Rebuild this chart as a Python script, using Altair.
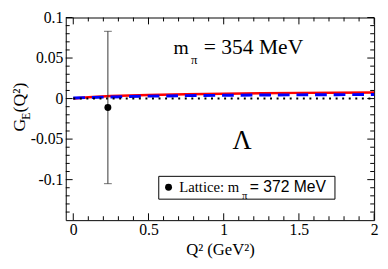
import altair as alt
import pandas as pd
import numpy as np

# ---- data ----
q2 = [0.0, 0.1, 0.25, 0.5, 0.75, 1.0, 1.25, 1.5, 1.75, 2.0]
ge_red = [0.0, 0.0016, 0.0031, 0.0045, 0.0053, 0.0060, 0.0066, 0.0070, 0.0073, 0.0076]
ge_blue = [0.0008, 0.0013, 0.0020, 0.0030, 0.0036, 0.0040, 0.0044, 0.0046, 0.0048, 0.0050]
ge_dot = [0.0, 0.0, 0.0, 0.0, 0.0, 0.0, 0.0, 0.0, 0.0, 0.0]

lat_q2 = [0.23]
lat_ge = [-0.011]
lat_err = [0.094]

x_labels = [0, 0.5, 1, 1.5, 2]
y_labels = [-0.1, -0.05, 0, 0.05, 0.1]
x_minor = [round(v, 2) for v in np.arange(0.1, 2.0, 0.1)]
y_minor = [round(v, 2) for v in np.arange(-0.14, 0.1, 0.01)]

PT = 15          # plot top on the page
PB = 222         # plot bottom on the page
W, H = 315, PB - PT
SERIF = "Liberation Serif"
SANS = "Liberation Sans"

def px(page_x):
    return page_x - 67

def py(ref_page_y):
    # position inside the plot, scaled from the reference's plot (6..228)
    return (ref_page_y - 6) * H / 222

xs = alt.Scale(domain=[-0.05, 2.0], nice=False, zero=False)
ys = alt.Scale(domain=[-0.15, 0.1], nice=False, zero=False)

curves = pd.DataFrame({"q2": q2, "red": ge_red, "blue": ge_blue, "dot": ge_dot})

xenc = alt.X("q2:Q", scale=xs,
             axis=alt.Axis(values=x_labels, title=None, labelFlush=False, labelPadding=2,
                           labelExpr="'' + datum.value"))

base = alt.Chart(curves)
red = base.mark_line(color="#ff0000", strokeWidth=2.5).encode(
    x=xenc,
    y=alt.Y("red:Q", scale=ys,
            axis=alt.Axis(values=y_labels, title=None, labelExpr="'' + datum.value",
                          labelPadding=3, labelFlush=False)))
blue = base.mark_line(color="#0000ff", strokeWidth=3, strokeDash=[12, 7]).encode(
    x=alt.X("q2:Q", scale=xs), y=alt.Y("blue:Q", scale=ys))
dot = base.mark_line(color="black", strokeWidth=2, strokeDash=[2, 4.7]).encode(
    x=alt.X("q2:Q", scale=xs), y=alt.Y("dot:Q", scale=ys))

lat = pd.DataFrame({"q2": lat_q2, "ge": lat_ge, "err": lat_err})
lat["lo"] = lat["ge"] - lat["err"]
lat["hi"] = lat["ge"] + lat["err"]
lb = alt.Chart(lat)
err = lb.mark_rule(color="#333333", strokeWidth=1).encode(
    x=alt.X("q2:Q", scale=xs), y=alt.Y("lo:Q", scale=ys), y2="hi:Q")
cap_lo = lb.mark_tick(color="#333333", orient="horizontal", size=8, thickness=1).encode(
    x=alt.X("q2:Q", scale=xs), y=alt.Y("lo:Q", scale=ys))
cap_hi = lb.mark_tick(color="#333333", orient="horizontal", size=8, thickness=1).encode(
    x=alt.X("q2:Q", scale=xs), y=alt.Y("hi:Q", scale=ys))
pt = lb.mark_circle(color="black", size=50, opacity=1).encode(
    x=alt.X("q2:Q", scale=xs), y=alt.Y("ge:Q", scale=ys))

# ---- inward ticks on all four sides ----
ymaj = pd.DataFrame({"v": y_labels})
ymin = pd.DataFrame({"v": [v for v in y_minor if abs(round(v / 0.05) * 0.05 - v) > 1e-9]})
xmaj = pd.DataFrame({"v": x_labels})
xmin = pd.DataFrame({"v": [v for v in x_minor if abs(round(v / 0.5) * 0.5 - v) > 1e-9]})

def yticks(df, L):
    c = alt.Chart(df)
    left = c.mark_rule(color="black", strokeWidth=1).encode(
        y=alt.Y("v:Q", scale=ys), x=alt.value(0), x2=alt.value(L))
    right = c.mark_rule(color="black", strokeWidth=1).encode(
        y=alt.Y("v:Q", scale=ys), x=alt.value(W), x2=alt.value(W - L))
    return [left, right]

def xticks(df, L):
    c = alt.Chart(df)
    bot = c.mark_rule(color="black", strokeWidth=1).encode(
        x=alt.X("v:Q", scale=xs), y=alt.value(H), y2=alt.value(H - L))
    top = c.mark_rule(color="black", strokeWidth=1).encode(
        x=alt.X("v:Q", scale=xs), y=alt.value(0), y2=alt.value(L))
    return [bot, top]

ticks = yticks(ymaj, 7) + yticks(ymin, 4) + xticks(xmaj, 7) + xticks(xmin, 4)

# ---- annotations ----
one = pd.DataFrame({"a": [0]})

def txt(s, x, y, size, font=SERIF, angle=0, align="left"):
    return alt.Chart(one).mark_text(font=font, fontSize=size, align=align,
                                    baseline="alphabetic", angle=angle,
                                    color="black").encode(
        x=alt.value(x), y=alt.value(y), text=alt.value(s))

legend_box = alt.Chart(one).mark_rect(fill="white", stroke="black", strokeWidth=1).encode(
    x=alt.value(px(162)), x2=alt.value(px(342)), y=alt.value(py(180)), y2=alt.value(py(205)))
legend_pt = alt.Chart(one).mark_circle(color="black", size=50, opacity=1).encode(
    x=alt.value(px(172)), y=alt.value(py(192)))

annos = [
    txt("m", px(177), py(46), 20),
    txt("π", px(195), py(57), 13),
    txt("= 354 MeV", px(208), py(46), 22),
    txt("Λ", px(247), py(150), 27, align="center"),
    legend_box, legend_pt,
    txt("Lattice: m", px(183), py(197), 15),
    txt("π", px(247), py(205), 11),
    txt("= 372 MeV", px(255), py(197), 16, font=SANS),
    # rotated y title
    txt("G", px(25), py(131), 18, angle=270),
    txt("E", px(30), py(118), 12, angle=270),
    txt("(Q²)", px(25), py(110), 18, angle=270),
    # x title
    txt("Q² (GeV²)", px(225), 258 - PT, 17, align="center"),
]

chart = alt.layer(red, blue, dot, err, cap_lo, cap_hi, pt, *ticks, *annos).properties(
    width=W, height=H,
    autosize=alt.AutoSizeParams(type="none"),
    padding={"left": 59, "top": PT - 8, "right": 6, "bottom": 261 - PB},
).configure_view(stroke="black", strokeWidth=1).configure_axis(
    grid=False, ticks=False, domain=False, labelFont=SERIF, labelFontSize=16,
    labelColor="black",
)

chart.save("out.html", embed_options={"renderer": "svg", "actions": False})
